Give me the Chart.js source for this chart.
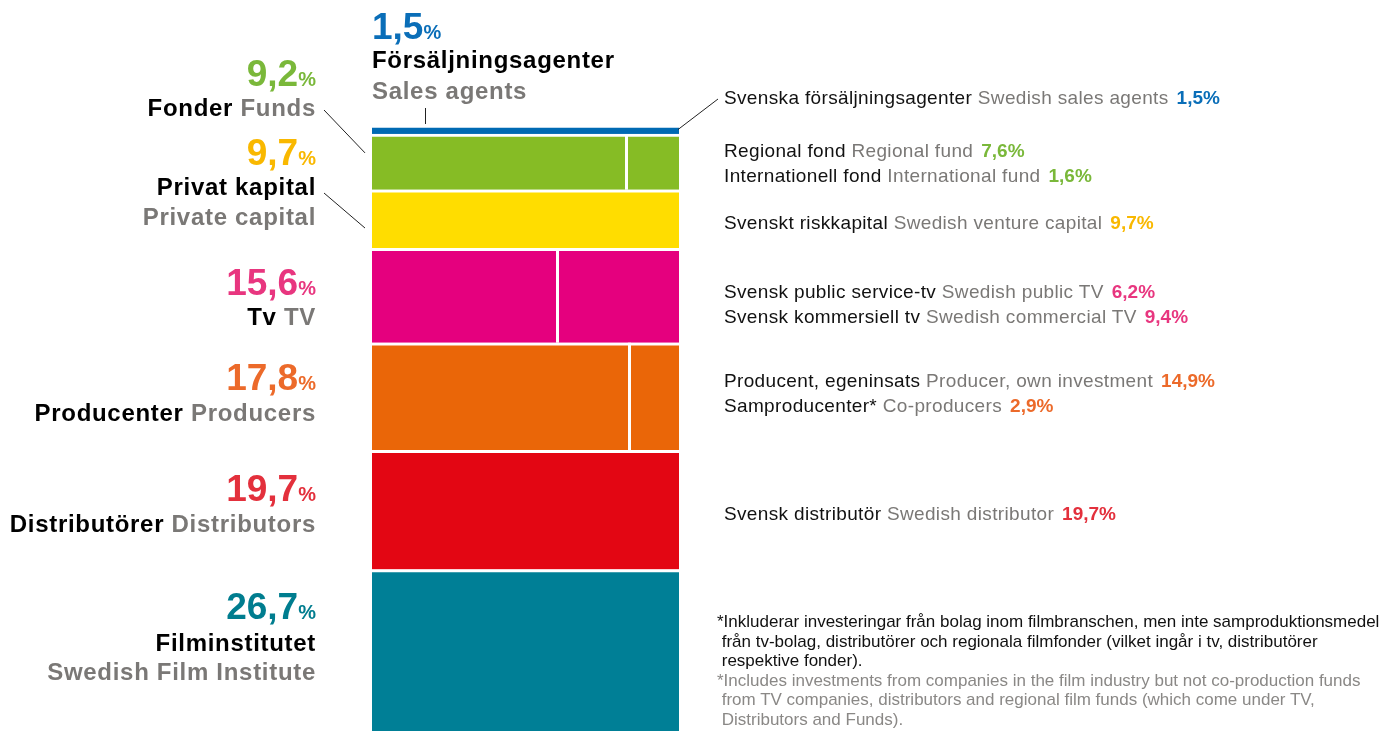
<!DOCTYPE html>
<html lang="sv">
<head>
<meta charset="utf-8">
<title>Finansiering</title>
<script src="https://cdn.jsdelivr.net/npm/chart.js@4.4.1/dist/chart.umd.min.js"></script>
<style>
  html, body { margin: 0; padding: 0; background: #fff; }
  #wrap { position: relative; width: 1399px; height: 731px; overflow: hidden; font-family: "Liberation Sans", Arial, sans-serif; }
  #mosaic { position: absolute; left: 0; top: 0; }
  .lbl { position: absolute; white-space: nowrap; line-height: 1; }
  .big { font-weight: bold; }
  .big .pct { font-size: 20px; }
  .name { font-weight: bold; letter-spacing: 0.7px; color: #000; }
  .en { color: #7a7876; }
  .item { color: #111; letter-spacing: 0.35px; }
  .item .val { font-weight: bold; margin-left: 8px; letter-spacing: 0; }
  #note { position: absolute; left: 717px; top: 612px; font-size: 17px; line-height: 19.6px; color: #111; white-space: nowrap; }
  #note .en { color: #8a8886; }
</style>
</head>
<body>
<div id="wrap">
  <canvas id="mosaic" width="1399" height="731"></canvas>
  <div id="labels"></div>
  <div id="note">
    *Inkluderar investeringar från bolag inom filmbranschen, men inte samproduktionsmedel<br>
    &nbsp;från tv-bolag, distributörer och regionala filmfonder (vilket ingår i tv, distributörer<br>
    &nbsp;respektive fonder).<br>
    <span class="en">*Includes investments from companies in the film industry but not co-production funds<br>
    &nbsp;from TV companies, distributors and regional film funds (which come under TV,<br>
    &nbsp;Distributors and Funds).</span>
  </div>
</div>
<script>
// groups, bottom to top
const groupNames = ['Filminstitutet', 'Distributörer', 'Producenter', 'Tv', 'Privat kapital', 'Fonder', 'Försäljningsagenter'];
const groupNamesEn = ['Swedish Film Institute', 'Distributors', 'Producers', 'TV', 'Private capital', 'Funds', 'Sales agents'];
const groupShares = [26.7, 19.7, 17.8, 15.6, 9.7, 9.2, 1.5];

// sub items per group
const subNames = [[], ['Svensk distributör'], ['Producent, egeninsats', 'Samproducenter*'], ['Svensk public service-tv', 'Svensk kommersiell tv'], ['Svenskt riskkapital'], ['Regional fond', 'Internationell fond'], ['Svenska försäljningsagenter']];
const subNamesEn = [[], ['Swedish distributor'], ['Producer, own investment', 'Co-producers'], ['Swedish public TV', 'Swedish commercial TV'], ['Swedish venture capital'], ['Regional fund', 'International fund'], ['Swedish sales agents']];
const subShares = [[], [19.7], [14.9, 2.9], [6.2, 9.4], [9.7], [7.6, 1.6], [1.5]];

const barColors = ['#007f96', '#e30613', '#ea6608', '#e5007e', '#ffdd00', '#86bc25', '#006ab3'];
const textColors = ['#007d8f', '#e3303c', '#ec6a2a', '#e8367f', '#f9b800', '#7ab83a', '#0a6eb8'];

const fmt = v => v.toFixed(1).replace('.', ',');
const total = groupShares.reduce((a, b) => a + b, 0);

// text layout (baselines in px)
const leftEdge = 316;
const leftBase = [[619, 651, 680], [501, 532], [390, 421], [295, 325], [165, 195, 225], [86, 116], [39, 68, 99]];
const rightBase = [[], [520], [387, 412], [298, 323], [229], [157, 182], [104]];

const labels = document.getElementById('labels');

function place(html, cls, x, base, fs, alignRight, color) {
  const el = document.createElement('div');
  el.className = 'lbl ' + cls;
  el.innerHTML = html;
  el.style.fontSize = fs + 'px';
  el.style.top = (base - 0.8465 * fs) + 'px';
  if (alignRight) el.style.right = (1399 - x) + 'px';
  else el.style.left = x + 'px';
  if (color) el.style.color = color;
  labels.appendChild(el);
}

groupNames.forEach((name, i) => {
  const b = leftBase[i];
  const top = i === groupNames.length - 1;
  const x = top ? 372 : leftEdge;
  place(fmt(groupShares[i]) + '<span class="pct">%</span>', 'big', x, b[0], 37, !top, textColors[i]);
  if (b.length === 3) {
    place(name, 'name', x, b[1], 24, !top);
    place('<span class="en">' + groupNamesEn[i] + '</span>', 'name', x, b[2], 24, !top);
  } else {
    place(name + ' <span class="en">' + groupNamesEn[i] + '</span>', 'name', x, b[1], 24, !top);
  }
  subNames[i].forEach((s, j) => {
    place(s + ' <span class="en">' + subNamesEn[i][j] + '</span><span class="val" style="color:' + textColors[i] + '">' + fmt(subShares[i][j]) + '%</span>',
      'item', 724, rightBase[i][j], 19, false);
  });
});

// white dividers inside the split blocks, larger part on the left
const dividers = {
  id: 'dividers',
  afterDatasetsDraw(chart) {
    const ctx = chart.ctx;
    subShares.forEach((parts, i) => {
      if (parts.length < 2) return;
      const bar = chart.getDatasetMeta(i).data[0];
      const p = bar.getProps(['x', 'y', 'base', 'width'], true);
      const frac = Math.max(...parts) / parts.reduce((a, b) => a + b, 0);
      const xx = Math.round(p.x - p.width / 2 + p.width * frac) + 0.5;
      ctx.save();
      ctx.strokeStyle = '#fff';
      ctx.lineWidth = 3;
      ctx.beginPath();
      ctx.moveTo(xx, p.y);
      ctx.lineTo(xx, p.base);
      ctx.stroke();
      ctx.restore();
    });
  }
};

// thin leader lines from labels to blocks
const leaders = {
  id: 'leaders',
  afterDraw(chart) {
    const ctx = chart.ctx;
    const area = chart.chartArea;
    const sales = chart.getDatasetMeta(6).data[0].getProps(['y', 'base'], true);
    const fond = chart.getDatasetMeta(5).data[0].getProps(['y', 'base'], true);
    const priv = chart.getDatasetMeta(4).data[0].getProps(['y', 'base'], true);
    ctx.save();
    ctx.strokeStyle = '#222';
    ctx.lineWidth = 1;
    ctx.beginPath();
    ctx.moveTo(425.5, 108);
    ctx.lineTo(425.5, sales.y - 1);
    ctx.moveTo(area.right - 1, (sales.y + sales.base) / 2);
    ctx.lineTo(718, 99);
    ctx.moveTo(324, 110);
    ctx.lineTo(area.left - 7, (fond.y + fond.base) / 2 - 9);
    ctx.moveTo(324, 193);
    ctx.lineTo(area.left - 7, (priv.y + priv.base) / 2 + 9);
    ctx.stroke();
    ctx.restore();
  }
};

new Chart(document.getElementById('mosaic').getContext('2d'), {
  type: 'bar',
  data: {
    labels: ['Finansiering'],
    datasets: groupNames.map((name, i) => ({
      label: name,
      data: [groupShares[i]],
      backgroundColor: barColors[i],
      borderColor: '#fff',
      borderWidth: { top: 3, right: 0, bottom: 0, left: 0 },
      borderSkipped: false,
      barPercentage: 1,
      categoryPercentage: 1
    }))
  },
  options: {
    responsive: false,
    animation: false,
    devicePixelRatio: 1,
    layout: { padding: { left: 372, right: 720, top: 125, bottom: 0 } },
    plugins: { legend: { display: false }, tooltip: { enabled: false } },
    scales: {
      x: { display: false, stacked: true },
      y: { display: false, stacked: true, min: 0, max: total }
    }
  },
  plugins: [dividers, leaders]
});
</script>
</body>
</html>
